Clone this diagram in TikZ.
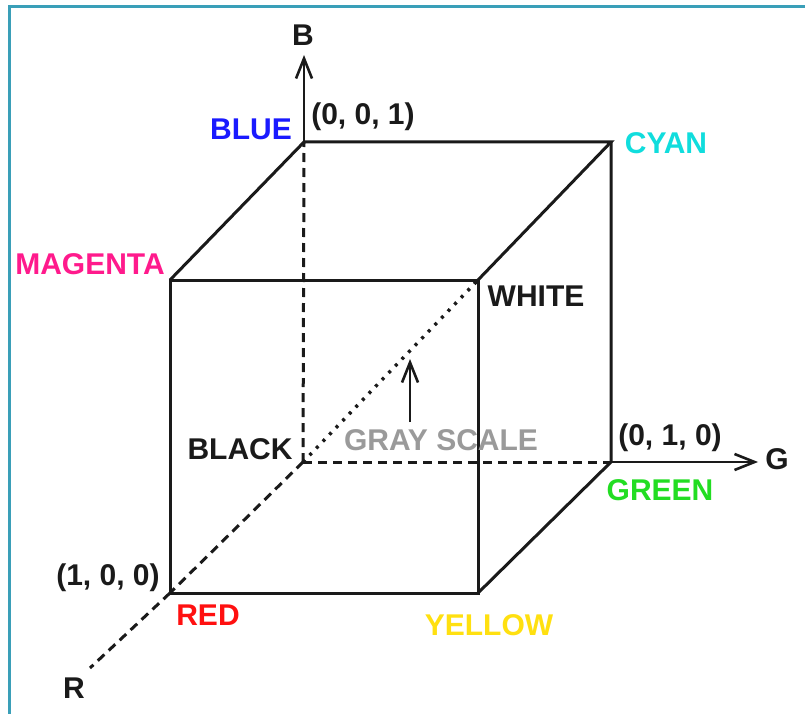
\documentclass[tikz,border=0pt]{standalone}
\usepackage{fontspec}
\setmainfont{Liberation Sans}
\usetikzlibrary{arrows.meta}
\definecolor{frameteal}{HTML}{3A9FB8}
\definecolor{cblue}{HTML}{1A1AFF}
\definecolor{ccyan}{HTML}{10DDDD}
\definecolor{cmag}{HTML}{FF1A8C}
\definecolor{cgreen}{HTML}{22DD22}
\definecolor{cred}{HTML}{FF1010}
\definecolor{cyellow}{HTML}{FFE010}
\definecolor{cgray}{HTML}{9A9A9A}
\definecolor{ink}{HTML}{1A1A1A}
\begin{document}
\begin{tikzpicture}[x=1pt,y=-1pt,
  edge/.style={draw=ink, line width=3pt, line join=miter},
  hidden/.style={draw=ink, line width=3pt, dash pattern=on 9pt off 6pt},
  dotline/.style={draw=ink, line width=3.4pt, dash pattern=on 3pt off 6.5pt},
  axis/.style={draw=ink, line width=2.6pt, -{Straight Barb[length=20pt,width=16pt,line width=2.6pt]}},
  lab/.style={inner sep=0pt, text height=21.5pt, text depth=0pt, font=\fontsize{30}{32}\selectfont\bfseries, text=ink},
  plab/.style={lab, text height=21.9pt, text depth=6.3pt}]
\useasboundingbox (0,0) rectangle (805,714);
\fill[white] (0,0) rectangle (805,714);
% frame
\draw[frameteal, line width=3pt] (805,7) -- (9,7) -- (9,714);
% corners
\coordinate (K) at (303,462);
\coordinate (Bl) at (304,142);
\coordinate (Cy) at (611,142);
\coordinate (Mg) at (170,280);
\coordinate (Wh) at (478,280);
\coordinate (Rd) at (170,593);
\coordinate (Ye) at (478,593);
\coordinate (Gr) at (611,462);
\coordinate (Bend) at (304,55);
\coordinate (Gend) at (758,462);
\coordinate (Rend) at (90,668);
\coordinate (Gs0) at (410,422);
\coordinate (Gs1) at (410,359);
% hidden lines
\draw[hidden] (K) -- (Bl);
\draw[hidden] (K) -- (Gr);
\draw[hidden] (K) -- (Rd);
\draw[hidden] (Rd) -- (Rend);
\draw[dotline] (K) -- (Wh);
% cube visible edges
\draw[edge] (Mg) -- (Wh) -- (Ye) -- (Rd) -- cycle;
\draw[edge] (Mg) -- (Bl) -- (Cy) -- (Wh);
\draw[edge] (Cy) -- (Gr) -- (Ye);
% axes
\draw[axis] (Bl) -- (Bend);
\draw[axis] (Gr) -- (Gend);
\draw[axis] (Gs0) -- (Gs1);
% labels
\node[lab] (lB) at (303,35) {B};
\node[lab, text=cblue] (lBlue) at (251,129) {BLUE};
\node[plab] (l001) at (363,117) {(0, 0, 1)};
\node[lab, text=ccyan] (lCyan) at (666,143) {CYAN};
\node[lab, text=cmag] (lMag) at (90,264) {MAGENTA};
\node[lab] (lWhite) at (536,296) {WHITE};
\node[lab] (lBlack) at (240,449) {BLACK};
\node[lab, text=cgray] (lGray) at (441,440) {GRAY SCALE};
\node[plab] (l010) at (670,438) {(0, 1, 0)};
\node[lab] (lG) at (777,459) {G};
\node[lab, text=cgreen] (lGreen) at (660,490) {GREEN};
\node[plab] (l100) at (108,578) {(1, 0, 0)};
\node[lab, text=cred] (lRed) at (208,615) {RED};
\node[lab, text=cyellow] (lYellow) at (489,625) {YELLOW};
\node[lab] (lR) at (74,688) {R};
\end{tikzpicture}
\end{document}
